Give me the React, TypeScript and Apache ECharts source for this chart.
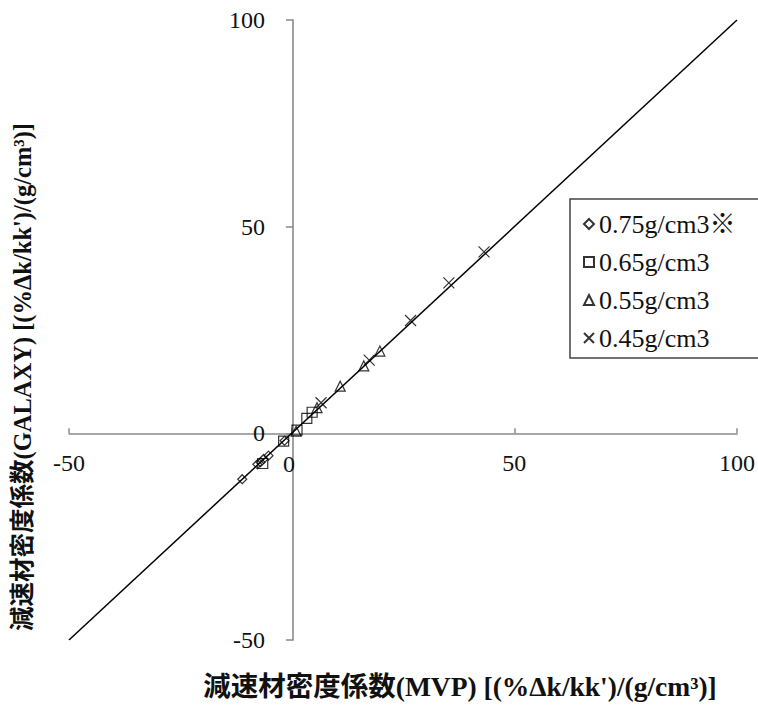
import React, { useEffect, useRef } from "react";
import * as echarts from "echarts";

const seriesNames = ["0.75g/cm3※", "0.65g/cm3", "0.55g/cm3", "0.45g/cm3"];
const d075: number[][] = [[-11.1, -11.1], [-7.7, -7.5], [-7.0, -7.0], [-6.3, -6.2], [-5.2, -5.4], [-1.6, -1.8]];
const d065: number[][] = [[-6.5, -7.3], [-1.8, -1.9], [1.2, 0.8], [3.4, 3.6], [4.6, 5.1]];
const d055: number[][] = [[1.0, 0.5], [5.7, 6.2], [10.9, 11.4], [16.2, 16.3], [19.8, 19.9]];
const d045: number[][] = [[6.6, 7.4], [17.4, 17.7], [26.7, 27.3], [35.3, 36.4], [43.2, 43.9]];
const diagonal: number[][] = [[-50, -50], [100, 100]];
const axisMin = -50;
const axisMax = 100;
const axisStep = 50;
const xTitle = "減速材密度係数(MVP) [(%Δk/kk')/(g/cm³)]";
const yTitle = "減速材密度係数(GALAXY) [(%Δk/kk')/(g/cm³)]";

const serif = "'Liberation Serif', 'Times New Roman', serif";
const titleFont = "'Liberation Serif', 'Noto Sans CJK JP', serif";
const crossPath = "path://M0,0L10,10M10,0L0,10";

const W = 758;
const H = 711;
const G = { left: 69, right: 17, top: 20, bottom: 71 };

export default function App() {
  const ref = useRef<HTMLDivElement>(null);
  useEffect(() => {
    if (!ref.current) return;
    const chart = echarts.init(ref.current, null, { renderer: "svg" });
    const gw = W - G.left - G.right;
    const gh = H - G.top - G.bottom;
    const frac = (0 - axisMin) / (axisMax - axisMin);
    const yOffset = -gw * frac; // move y axis to x = 0
    const xOffset = -gh * frac; // move x axis to y = 0
    const zeroX = G.left + gw * frac;
    const zeroY = G.top + gh * (1 - frac);
    const mk = (name: string, data: number[][], symbol: string, size: number) => ({
      name,
      type: "scatter",
      data,
      symbol,
      symbolSize: size,
      itemStyle: { color: "rgba(255,255,255,0)", borderColor: "#000", borderWidth: 1.2 },
      z: 3,
    });
    chart.setOption({
      animation: false,
      backgroundColor: "#fff",
      title: {
        text: "0",
        left: zeroX - 10,
        top: zeroY + 19,
        padding: 0,
        z: 20,
        textStyle: { fontFamily: serif, fontSize: 24, fontWeight: "normal", color: "#111" },
      },
      grid: { ...G, containLabel: false },
      xAxis: {
        type: "value",
        min: axisMin,
        max: axisMax,
        interval: axisStep,
        position: "bottom",
        offset: xOffset,
        axisLine: { onZero: false, lineStyle: { color: "#8a8a8a", width: 1.6 } },
        axisTick: { show: true, inside: true, length: 5, lineStyle: { color: "#8a8a8a", width: 1.5 } },
        axisLabel: {
          margin: 18,
          hideOverlap: false,
          fontFamily: serif,
          fontSize: 24,
          color: "#111",
          formatter: (v: number) => (v === 0 ? "" : String(v)),
        },
        splitLine: { show: false },
      },
      yAxis: {
        type: "value",
        min: axisMin,
        max: axisMax,
        interval: axisStep,
        position: "left",
        offset: yOffset,
        axisLine: { onZero: false, lineStyle: { color: "#8a8a8a", width: 1.6 } },
        axisTick: { show: true, inside: false, length: 7, lineStyle: { color: "#8a8a8a", width: 1.5 } },
        axisLabel: { margin: 28, hideOverlap: false, fontFamily: serif, fontSize: 24, color: "#111" },
        splitLine: { show: false },
      },
      legend: {
        orient: "vertical",
        left: 570,
        top: 199,
        data: seriesNames,
        itemWidth: 10,
        itemHeight: 10,
        itemGap: 12,
        padding: [12, 28, 7, 13],
        borderColor: "#444",
        borderWidth: 1.5,
        textStyle: { fontFamily: titleFont, fontSize: 26, lineHeight: 26, color: "#111" },
      },
      graphic: [
        {
          type: "text",
          x: 460,
          y: 686,
          style: {
            text: xTitle,
            fontFamily: titleFont,
            fontWeight: "bold",
            fontSize: 27.5,
            fill: "#111",
            align: "center",
            verticalAlign: "middle",
          },
        },
        {
          type: "text",
          x: 22,
          y: 377,
          rotation: Math.PI / 2,
          style: {
            text: yTitle,
            fontFamily: titleFont,
            fontWeight: "bold",
            fontSize: 24.5,
            fill: "#111",
            align: "center",
            verticalAlign: "middle",
          },
        },
      ],
      series: [
        {
          type: "line",
          data: diagonal,
          symbol: "none",
          lineStyle: { color: "#000", width: 1.5 },
          z: 2,
          silent: true,
        },
        mk(seriesNames[0], d075, "diamond", 9),
        mk(seriesNames[1], d065, "rect", 10),
        mk(seriesNames[2], d055, "triangle", 10),
        mk(seriesNames[3], d045, crossPath, 11),
      ],
    });
    return () => chart.dispose();
  }, []);
  return (
    <div
      ref={ref}
      style={{ position: "absolute", left: 0, top: 0, width: W, height: H }}
    />
  );
}
